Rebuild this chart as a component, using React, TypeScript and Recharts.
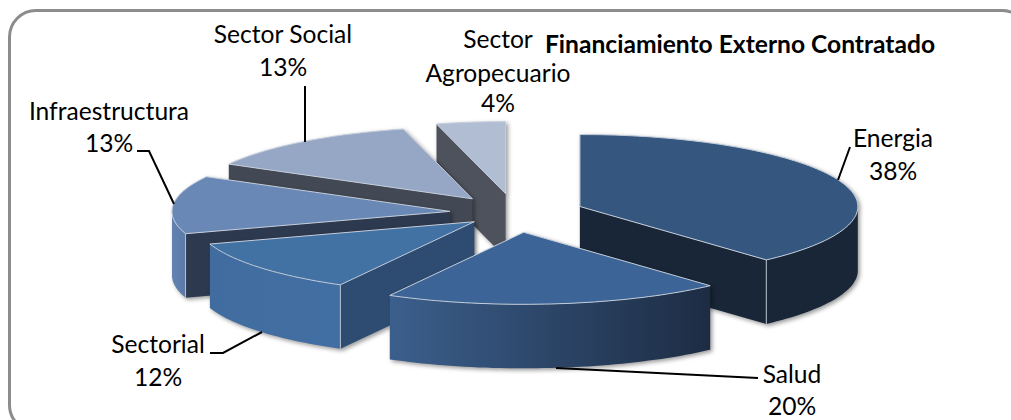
import React from "react";
import { PieChart, Pie } from "recharts";

const sectors = ["Energia", "Sector Agropecuario", "Sector Social", "Infraestructura", "Sectorial", "Salud"];
const shares = [38.3, 4, 13, 13, 12, 19.7];

const rows = sectors.map((name, i) => ({ name, value: shares[i] }));
const total = shares.reduce((a, b) => a + b, 0);

// slices run counter-clockwise so the back ones get painted first
const START = 90 - (360 * shares[0]) / total;

const RX = 278;
const RY = 72;
const DEPTH = 64;
const CX = 515;
const CY = 213;

const LOOK: Record<string, { top: string; side: string; rimA: string; rimB: string; pull: number }> = {
  Energia: { top: "#35577f", side: "#182638", rimA: "#182638", rimB: "#182638", pull: 0.25 },
  Salud: { top: "#3c6496", side: "#1d2d44", rimA: "#3b5f8c", rimB: "#1d2c43", pull: 0.27 },
  Sectorial: { top: "#4271a4", side: "#2e4c72", rimA: "#416ca0", rimB: "#426fa3", pull: 0.19 },
  Infraestructura: { top: "#6a88b5", side: "#2d394f", rimA: "#6283b3", rimB: "#5a79a6", pull: 0.235 },
  "Sector Social": { top: "#95a7c5", side: "#424955", rimA: "#424955", rimB: "#424955", pull: 0.25 },
  "Sector Agropecuario": { top: "#b0bdd3", side: "#4d525c", rimA: "#4d525c", rimB: "#4d525c", pull: 0.27 },
};

const LABELS: Record<string, { x: number; lines: string[]; ys: number[]; leader: string }> = {
  Energia: { x: 893, lines: ["Energia"], ys: [147, 180], leader: "838,180 850,147" },
  Salud: { x: 792, lines: ["Salud"], ys: [383, 415], leader: "556,368 758,378" },
  Sectorial: { x: 158, lines: ["Sectorial"], ys: [353, 386], leader: "210,353 223,353 262,332" },
  Infraestructura: { x: 109, lines: ["Infraestructura"], ys: [120, 152], leader: "137,151 149,151 174,204" },
  "Sector Social": { x: 283, lines: ["Sector Social"], ys: [43, 76], leader: "305,86 305,142" },
  "Sector Agropecuario": { x: 498, lines: ["Sector", "Agropecuario"], ys: [48, 82, 112], leader: "" },
};

const rad = (d: number) => (d * Math.PI) / 180;

const Slice3D = (props: any) => {
  const name = props.name ?? props.payload?.name;
  const look = LOOK[name];
  const lo = Math.min(props.startAngle, props.endAngle);
  const hi = Math.max(props.startAngle, props.endAngle);
  const mid = rad((lo + hi) / 2);
  const ax = props.cx + look.pull * RX * Math.cos(mid);
  const ay = props.cy - look.pull * RY * Math.sin(mid);
  const at = (deg: number, drop = 0) => [ax + RX * Math.cos(rad(deg)), ay - RY * Math.sin(rad(deg)) + drop];

  const arc: number[] = [];
  for (let d = lo; d < hi; d += 1.5) arc.push(d);
  arc.push(hi);

  const top = [[ax, ay], ...arc.map((d) => at(d))];
  const rimAngles = arc.filter((d) => Math.sin(rad(d)) <= 0);
  const rim = [...rimAngles.map((d) => at(d)), ...[...rimAngles].reverse().map((d) => at(d, DEPTH))];

  const showLo = Math.sin(rad(lo - 90)) < -0.01;
  const showHi = Math.sin(rad(hi + 90)) < -0.01;
  const face = (deg: number) => {
    const [x, y] = at(deg);
    return [[ax, ay], [x, y], [x, y + DEPTH], [ax, ay + DEPTH]];
  };
  const str = (pts: number[][]) => pts.map((p) => `${p[0].toFixed(1)},${p[1].toFixed(1)}`).join(" ");
  const gradId = `rim-${name.replace(/\s/g, "")}`;
  const edge = (deg: number) => {
    const [x, y] = at(deg);
    return <line x1={x} y1={y} x2={x} y2={y + DEPTH} stroke="#b9c2cf" strokeWidth={1} />;
  };

  return (
    <g style={{ filter: "drop-shadow(2px 2px 2px rgba(0,0,0,0.4))" }}>
      <defs>
        <linearGradient id={gradId} x1="0" y1="0" x2="1" y2="0">
          <stop offset="0%" stopColor={look.rimA} />
          <stop offset="100%" stopColor={look.rimB} />
        </linearGradient>
      </defs>
      {showLo && <polygon points={str(face(lo))} fill={look.side} />}
      {showHi && <polygon points={str(face(hi))} fill={look.side} />}
      {rim.length > 2 && <polygon points={str(rim)} fill={`url(#${gradId})`} />}
      {showLo && Math.sin(rad(lo)) <= 0 && edge(lo)}
      {showHi && Math.sin(rad(hi)) <= 0 && edge(hi)}
      <polygon points={str(top)} fill={look.top} stroke="#c5cedb" strokeWidth={1} strokeLinejoin="round" />
    </g>
  );
};

const SliceLabel = (props: any) => {
  const label = LABELS[props.name];
  const pct = `${Math.round((props.value / total) * 100)}%`;
  const texts = [...label.lines, pct];
  return (
    <g>
      {label.leader && <polyline points={label.leader} fill="none" stroke="#000" strokeWidth={2} />}
      {texts.map((t, i) => (
        <text key={i} x={label.x} y={label.ys[i]} textAnchor="middle" fontSize={24.6} fontFamily="Lato" fill="#000">
          {t}
        </text>
      ))}
    </g>
  );
};

export default function App() {
  return (
    <div style={{ position: "absolute", left: 0, top: 0, width: 1011, height: 420, overflow: "hidden", background: "#fff" }}>
      <div
        style={{
          position: "absolute",
          left: 8,
          top: 9,
          width: 1016,
          height: 418,
          border: "3px solid #8c8c8c",
          borderRadius: 28,
        }}
      />
      <div style={{ position: "absolute", left: 0, top: 0 }}>
        <PieChart width={1011} height={420} margin={{ top: 0, right: 0, bottom: 0, left: 0 }}>
          <Pie
            data={rows}
            dataKey="value"
            nameKey="name"
            cx={CX}
            cy={CY}
            innerRadius={0}
            outerRadius={RX}
            startAngle={START}
            endAngle={START + 360}
            stroke="none"
            shape={Slice3D}
            label={SliceLabel}
            labelLine={false}
            isAnimationActive={false}
          />
          <text x={740} y={53} textAnchor="middle" fontSize={24.6} fontWeight={700} fontFamily="Lato" fill="#000">
            Financiamiento Externo Contratado
          </text>
        </PieChart>
      </div>
    </div>
  );
}
